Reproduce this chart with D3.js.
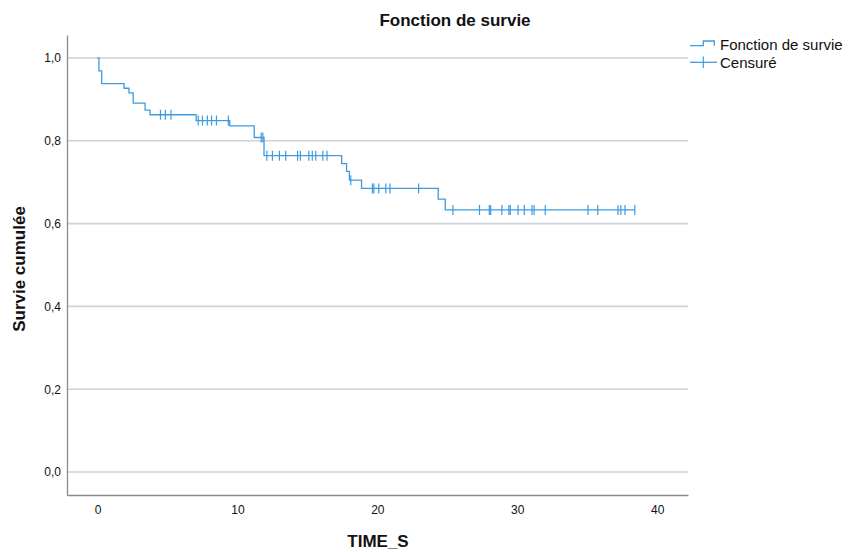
<!DOCTYPE html>
<html>
<head>
<meta charset="utf-8">
<script src="https://cdn.jsdelivr.net/npm/d3@7/dist/d3.min.js"></script>
<style>
  html, body { margin: 0; padding: 0; background: #fff; }
  svg text { font-family: "Liberation Sans", Arial, sans-serif; fill: #111; }
</style>
</head>
<body>
<svg id="chart" width="850" height="552"></svg>
<script>
// Kaplan-Meier estimate: times where events occur and survival after each event
const eventTimes    = [0.1, 0.3, 1.9, 2.25, 2.55, 3.4, 3.75, 7.05, 9.45, 11.2, 11.9, 17.45, 17.8, 18.0, 18.87, 24.35, 24.85];
const eventSurvival = [0.969, 0.938, 0.927, 0.916, 0.891, 0.874, 0.863, 0.849, 0.836, 0.808, 0.764, 0.745, 0.726, 0.705, 0.685, 0.659, 0.633];
// Censored observations
const censorTimes = [4.5, 4.85, 5.25, 7.2, 7.5, 7.85, 8.15, 8.5, 9.35, 11.7, 11.82,
  12.1, 12.5, 13.0, 13.45, 14.3, 14.5, 15.1, 15.35, 15.6, 16.1, 16.4, 18.1,
  19.65, 19.75, 20.1, 20.6, 20.9, 22.95,
  25.4, 27.3, 28.0, 28.1, 28.9, 29.4, 29.5, 30.05, 30.5, 31.05, 31.2, 32.0,
  35.05, 35.75, 37.2, 37.4, 37.7, 38.4];
const xTicks = [0, 10, 20, 30, 40];
const yTicks = [0, 0.2, 0.4, 0.6, 0.8, 1.0];
const lastTime = 38.4;

const blue = "#3d9be0";
const svg = d3.select("#chart");

const x = d3.scaleLinear().domain([-2.18, 42.2]).range([67, 688]);
const y = d3.scaleLinear().domain([-0.0556, 1.0556]).range([495, 35]);

// survival value at time t (right-continuous step function)
function survivalAt(t) {
  let s = 1;
  for (let i = 0; i < eventTimes.length; i++) if (eventTimes[i] <= t) s = eventSurvival[i];
  return s;
}

// gridlines
svg.append("g").selectAll("line").data(yTicks).join("line")
  .attr("x1", x.range()[0]).attr("x2", x.range()[1])
  .attr("y1", d => y(d)).attr("y2", d => y(d))
  .attr("stroke", "#d2d2d2").attr("stroke-width", 1.6);

// axes
const fmt = d => d3.format(".1f")(d).replace(".", ",");
const yAxis = d3.axisLeft(y).tickValues(yTicks).tickSize(0).tickPadding(6).tickFormat(fmt);
const xAxis = d3.axisBottom(x).tickValues(xTicks).tickSize(0).tickPadding(10).tickFormat(d3.format("d"));

const gy = svg.append("g").attr("transform", `translate(${x.range()[0]},0)`).call(yAxis);
const gx = svg.append("g").attr("transform", `translate(0,${y.range()[0]})`).call(xAxis);
[gx, gy].forEach(g => {
  g.select(".domain").attr("stroke", "#8a8a8a").attr("stroke-width", 1.3);
  g.selectAll("text").attr("font-size", 12).attr("font-family", '"Liberation Sans", Arial, sans-serif').attr("fill", "#222");
});

// survival curve
const pts = [[0, 1]].concat(eventTimes.map((t, i) => [t, eventSurvival[i]]), [[lastTime, survivalAt(lastTime)]]);
const line = d3.line().x(d => x(d[0])).y(d => y(d[1])).curve(d3.curveStepAfter);
svg.append("path").datum(pts).attr("d", line)
  .attr("fill", "none").attr("stroke", blue).attr("stroke-width", 1.3);

// censor marks
svg.append("g").selectAll("line").data(censorTimes).join("line")
  .attr("x1", d => x(d)).attr("x2", d => x(d))
  .attr("y1", d => y(survivalAt(d)) - 5).attr("y2", d => y(survivalAt(d)) + 5)
  .attr("stroke", blue).attr("stroke-width", 1.2);

// titles
svg.append("text").attr("x", 455).attr("y", 26).attr("text-anchor", "middle")
  .attr("font-size", 17).attr("font-weight", "bold").text("Fonction de survie");
svg.append("text").attr("x", 378).attr("y", 547).attr("text-anchor", "middle")
  .attr("font-size", 17).attr("font-weight", "bold").text("TIME_S");
svg.append("text").attr("transform", "translate(25,269) rotate(-90)").attr("text-anchor", "middle")
  .attr("font-size", 17).attr("font-weight", "bold").text("Survie cumulée");

// legend
const lg = svg.append("g");
lg.append("path").attr("d", "M690,45.7H703.3V41H714.3V45.7")
  .attr("fill", "none").attr("stroke", blue).attr("stroke-width", 1.3);
lg.append("text").attr("x", 720).attr("y", 50).attr("font-size", 15).text("Fonction de survie");
lg.append("line").attr("x1", 690).attr("x2", 717).attr("y1", 62.3).attr("y2", 62.3)
  .attr("stroke", blue).attr("stroke-width", 1.3);
lg.append("line").attr("x1", 703.3).attr("x2", 703.3).attr("y1", 56.5).attr("y2", 68)
  .attr("stroke", blue).attr("stroke-width", 1.2);
lg.append("text").attr("x", 720).attr("y", 68).attr("font-size", 15).text("Censuré");
</script>
</body>
</html>
